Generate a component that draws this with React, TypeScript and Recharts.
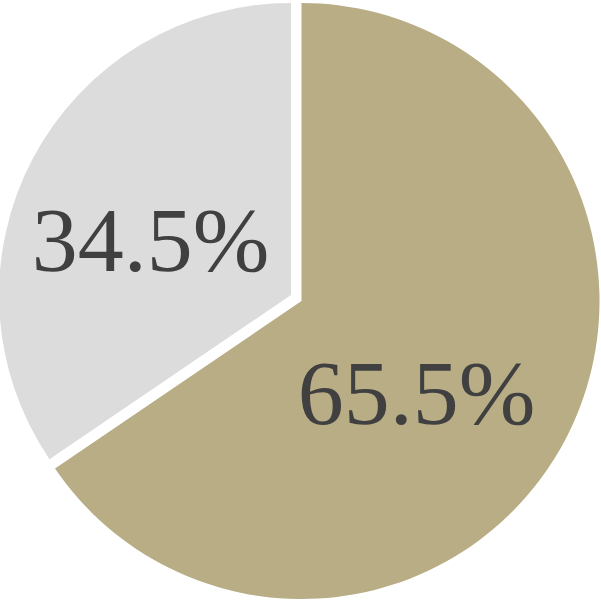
import { Cell, Pie, PieChart } from "recharts";

const categories = ["A", "B"];
const shares = [65.5, 34.5];
const colors = ["#b8ad85", "#dcdcdc"];

const data = categories.map((name, i) => ({ name, value: shares[i] }));

const RADIAN = Math.PI / 180;

// each slice is drawn by its own pie (the other slice left transparent) so they can sit apart
const slices = [
  { index: 0, cx: 301.5, cy: 301, r: 298 },
  { index: 1, cx: 291, cy: 295, r: 292 },
];

interface LabelProps {
  cx: number;
  cy: number;
  midAngle: number;
  outerRadius: number;
  value: number;
  index: number;
}

function makeLabel(visible: number) {
  return function SliceLabel({ cx, cy, midAngle, outerRadius, value, index }: LabelProps) {
    if (index !== visible) return null;
    const x = cx + outerRadius * 0.49 * Math.cos(-midAngle * RADIAN) - 14;
    const y = cy + outerRadius * 0.533 * Math.sin(-midAngle * RADIAN) + 17.5;
    return (
      <text
        x={x}
        y={y}
        textAnchor="middle"
        dominantBaseline="central"
        fill="#404040"
        fontFamily="'Liberation Serif', serif"
        fontSize={92}
      >
        {`${value.toFixed(1)}%`}
      </text>
    );
  };
}

export default function App() {
  return (
    <div style={{ position: "absolute", left: 0, top: 0, width: 601, height: 601, background: "#fff" }}>
      <PieChart width={601} height={601} margin={{ top: 0, right: 0, bottom: 0, left: 0 }}>
        {slices.map((s) => (
          <Pie
            key={s.index}
            data={data}
            dataKey="value"
            nameKey="name"
            cx={s.cx}
            cy={s.cy}
            outerRadius={s.r}
            startAngle={90}
            endAngle={-270}
            stroke="none"
            labelLine={false}
            label={makeLabel(s.index)}
            isAnimationActive={false}
          >
            {data.map((_, i) => (
              <Cell key={i} fill={i === s.index ? colors[i] : "transparent"} />
            ))}
          </Pie>
        ))}
      </PieChart>
    </div>
  );
}
